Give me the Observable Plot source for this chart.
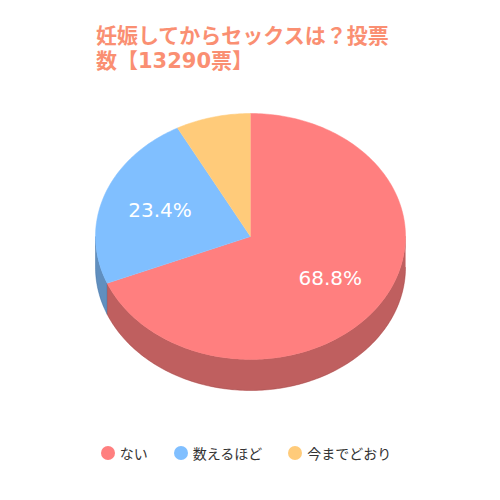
<!DOCTYPE html>
<html>
<head>
<meta charset="utf-8">
<script src="https://cdn.jsdelivr.net/npm/d3@7"></script>
<script src="https://cdn.jsdelivr.net/npm/@observablehq/plot@0.6"></script>
<style>
  html, body { margin: 0; padding: 0; background: #fff; width: 500px; height: 500px; overflow: hidden; }
  #title { box-sizing: border-box; height: 80px; padding: 24px 0 0 96px; width: 410px;
    font-family: "DejaVu Sans", "Noto Sans CJK JP", sans-serif; font-weight: bold; font-size: 21px;
    line-height: 25px; color: #fa8f72; }
  #title span { display: block; width: 305px; }
  #chart svg { display: block; }
  #legend { height: 66px; display: flex; justify-content: center; align-items: center; gap: 26px;
    font-family: "Noto Sans CJK JP", "DejaVu Sans", sans-serif; font-size: 14px; color: #333; padding-right: 8px; }
  .item { display: flex; align-items: center; gap: 5px; }
  .dot { width: 14px; height: 14px; border-radius: 50%; display: inline-block; }
</style>
</head>
<body>
<div id="title"><span>妊娠してからセックスは？投票数【13290票】</span></div>
<div id="chart"></div>
<div id="legend"></div>
<script>
const labels = ["ない", "数えるほど", "今までどおり"];
const values = [68.8, 23.4, 7.8];
const colors = ["#ff7f7f", "#80bfff", "#ffcb7a"];

const cx = 250, cy = 156, rx = 155, ry = 123, depth = 31;
const total = d3.sum(values);
const px = t => cx + rx * Math.sin(t);
const py = t => cy - ry * Math.cos(t);

let acc = 0;
const slices = values.map((v, i) => {
  const a0 = acc / total * 2 * Math.PI;
  acc += v;
  const a1 = acc / total * 2 * Math.PI;
  return {label: labels[i], value: v, a0, a1};
});

function arcPts(s, e) {
  const n = Math.max(2, Math.ceil((e - s) / (Math.PI / 180)));
  return d3.range(n + 1).map(k => s + (e - s) * k / n);
}

const topRows = [];
const sideRows = [];
slices.forEach((s, i) => {
  topRows.push({key: i, label: s.label, x: cx, y: cy});
  arcPts(s.a0, s.a1).forEach(t => topRows.push({key: i, label: s.label, x: px(t), y: py(t)}));
  const st = Math.max(s.a0, Math.PI / 2), en = Math.min(s.a1, 3 * Math.PI / 2);
  if (en > st) {
    const ts = arcPts(st, en);
    ts.forEach(t => sideRows.push({key: i, label: s.label, x: px(t), y: py(t)}));
    ts.slice().reverse().forEach(t => sideRows.push({key: i, label: s.label, x: px(t), y: py(t) + depth}));
  }
});

const labelRows = slices.filter(s => s.value >= 10).map(s => {
  const m = (s.a0 + s.a1) / 2;
  return {x: cx + 0.62 * rx * Math.sin(m), y: cy - 0.62 * ry * Math.cos(m), text: s.value.toFixed(1) + "%"};
});

const plot = Plot.plot({
  width: 500, height: 340, margin: 0,
  style: {fontFamily: "DejaVu Sans", background: "white"},
  x: {domain: [0, 500], range: [0, 500], axis: null},
  y: {domain: [0, 340], range: [0, 340], axis: null},
  color: {domain: labels, range: colors},
  marks: [
    Plot.line(sideRows, {x: "x", y: "y", z: "key", fill: "label", stroke: "label", strokeWidth: 0.5}),
    Plot.line(sideRows, {x: "x", y: "y", z: "key", fill: "black", fillOpacity: 0.25, stroke: "black", strokeOpacity: 0.25, strokeWidth: 0.5}),
    Plot.line(topRows, {x: "x", y: "y", z: "key", fill: "label", stroke: "label", strokeWidth: 0.5}),
    Plot.text(labelRows, {x: "x", y: "y", text: "text", fill: "white", fontSize: 20})
  ]
});
document.getElementById("chart").appendChild(plot);

const legend = document.getElementById("legend");
labels.forEach((l, i) => {
  const it = document.createElement("div");
  it.className = "item";
  const dot = document.createElement("span");
  dot.className = "dot";
  dot.style.background = colors[i];
  const tx = document.createElement("span");
  tx.textContent = l;
  it.appendChild(dot); it.appendChild(tx);
  legend.appendChild(it);
});
</script>
</body>
</html>
